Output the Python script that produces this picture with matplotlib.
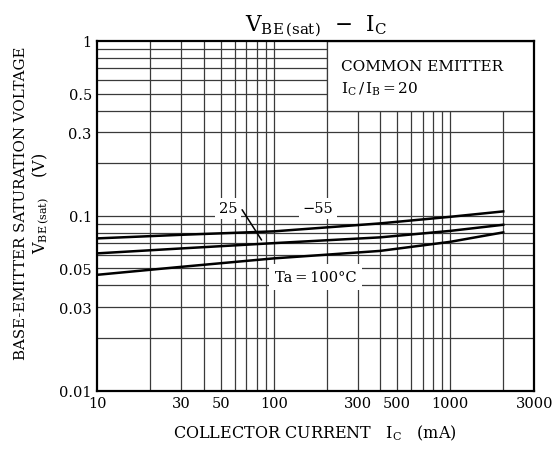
import matplotlib
matplotlib.use("Agg")
import matplotlib.pyplot as plt
from matplotlib.patches import Rectangle

plt.rcParams['font.family'] = ['DejaVu Serif']
plt.rcParams['mathtext.fontset'] = 'dejavuserif'

# collector current (mA) and VBE(sat) (V)
ic = [10, 30, 100, 400, 1000, 2000]
vbe_m55 = [0.0743, 0.0779, 0.0815, 0.0905, 0.0987, 0.106]
vbe_25 = [0.061, 0.0651, 0.0698, 0.0753, 0.082, 0.0889]
vbe_100 = [0.046, 0.0511, 0.0571, 0.063, 0.071, 0.0804]

xticks = [10, 30, 50, 100, 300, 500, 1000, 3000]
yticks = [0.01, 0.03, 0.05, 0.1, 0.3, 0.5, 1]
xgrid = [20, 30, 40, 50, 60, 70, 80, 90, 100, 200, 300, 400, 500, 600, 700, 800, 900, 1000, 2000]
ygrid = [0.02, 0.03, 0.04, 0.05, 0.06, 0.07, 0.08, 0.09, 0.1,
         0.2, 0.3, 0.4, 0.5, 0.6, 0.7, 0.8, 0.9]

fig = plt.figure(figsize=(5.58, 4.56), dpi=100)
ax = fig.add_axes([0.1744, 0.141, 0.7831, 0.767])
ax.set_xscale('log')
ax.set_yscale('log')
ax.set_xlim(10, 3000)
ax.set_ylim(0.01, 1)

gc = '#3a3a3a'
for x in xgrid:
    ax.axvline(x, color=gc, lw=0.9, zorder=1)
for y in ygrid:
    ax.axhline(y, color=gc, lw=0.9, zorder=1)

# blank box for the condition text
ax.add_patch(Rectangle((200, 0.4), 2800, 0.6, fc='white', ec=gc, lw=0.9, zorder=2))
ax.text(240, 0.72, 'COMMON EMITTER', fontsize=11, va='center', zorder=3)
ax.text(240, 0.535, r'$\mathrm{I_C\,/\,I_B}$$\,$=$\,$20', fontsize=11, va='center', zorder=3)

ax.plot(ic, vbe_m55, color='black', lw=1.8, zorder=4)
ax.plot(ic, vbe_25, color='black', lw=1.8, zorder=4)
ax.plot(ic, vbe_100, color='black', lw=1.8, zorder=4)

box = dict(fc='white', ec='none', pad=2.5)
ax.text(55, 0.1107, '25', fontsize=10.5, ha='center', va='center', bbox=box, zorder=3)
ax.annotate('', xy=(87, 0.0705), xytext=(64.9, 0.1117),
            arrowprops=dict(arrowstyle='-', color='black', lw=1.1), zorder=5)
ax.text(178, 0.1107, '\u221255', fontsize=10.5, ha='center', va='center', bbox=box, zorder=3)
ax.text(173, 0.0447, 'Ta\u2009=\u2009100\u00b0C', fontsize=10.5, ha='center', va='center',
        bbox=dict(fc='white', ec='none', pad=4), zorder=3)

ax.set_xticks(xticks)
ax.set_xticklabels([str(t) for t in xticks])
ax.set_yticks(yticks)
ax.set_yticklabels([str(t) for t in yticks])
ax.minorticks_off()
ax.tick_params(length=0, labelsize=10.5, pad=4)
for s in ax.spines.values():
    s.set_linewidth(1.6)
    s.set_zorder(6)

ax.set_title(r'$\mathrm{V_{BE\,(sat)}}$  $-$  $\mathrm{I_C}$', fontsize=15.5, pad=8)
fig.text(0.565, 0.038, r'COLLECTOR CURRENT   $\mathrm{I_C}$   (mA)', fontsize=11.5, ha='center')
fig.text(0.038, 0.555, 'BASE-EMITTER SATURATION VOLTAGE', fontsize=10.8, rotation=90,
         ha='center', va='center')
fig.text(0.075, 0.555, r'$\mathrm{V_{BE\,(sat)}}$    (V)', fontsize=11.5, rotation=90,
         ha='center', va='center')

fig.savefig('out.png', dpi=100)
